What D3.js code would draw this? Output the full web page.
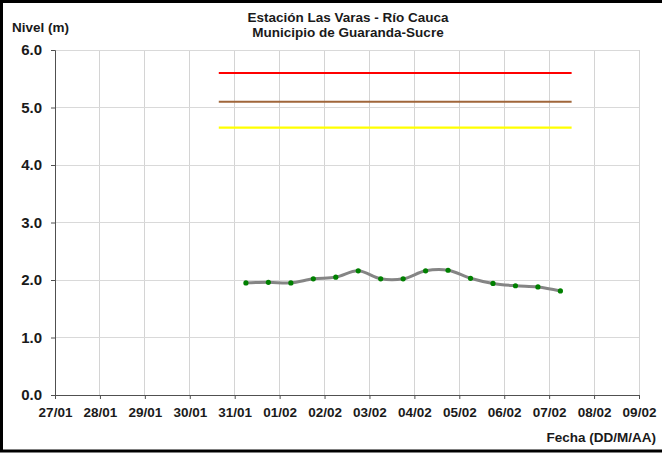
<!DOCTYPE html>
<html>
<head>
<meta charset="utf-8">
<script src="https://cdn.jsdelivr.net/npm/d3@7"></script>
<style>
  html, body { margin: 0; padding: 0; background: #fff; }
  svg { display: block; }
  text { font-family: "Liberation Sans", Arial, sans-serif; font-weight: bold; fill: #1a1a1a; }
</style>
</head>
<body>
<svg id="chart" width="662" height="453"></svg>
<script>
// ---- Data ----
const titleLines = ["Estación Las Varas - Río Cauca", "Municipio de Guaranda-Sucre"];
const yLabel = "Nivel (m)";
const xLabel = "Fecha (DD/M/AA)";

const levelDates = [
  "2017-01-31T06:00", "2017-01-31T18:00", "2017-02-01T06:00", "2017-02-01T18:00",
  "2017-02-02T06:00", "2017-02-02T18:00", "2017-02-03T06:00", "2017-02-03T18:00",
  "2017-02-04T06:00", "2017-02-04T18:00", "2017-02-05T06:00", "2017-02-05T18:00",
  "2017-02-06T06:00", "2017-02-06T18:00", "2017-02-07T06:00"
];
const levelValues = [1.95, 1.96, 1.95, 2.02, 2.05, 2.16, 2.02, 2.02, 2.16, 2.17, 2.03, 1.94, 1.90, 1.88, 1.81];

const thresholdStart = "2017-01-30T15:30";
const thresholdEnd = "2017-02-07T12:00";
const thresholdNames = ["Roja", "Naranja", "Amarilla"];
const thresholdValues = [5.6, 5.1, 4.65];
const thresholdColors = ["#ff0000", "#a0663a", "#ffff00"];

const xDomain = ["2017-01-27T00:00", "2017-02-09T00:00"];
const yTicks = [0, 1, 2, 3, 4, 5, 6];

// ---- Chart ----
(function () {
const parse = d3.timeParse("%Y-%m-%dT%H:%M");
const svg = d3.select("#chart");

const mLeft = 55, mRight = 639, mTop = 50, mBottom = 395;
const x = d3.scaleTime().domain(xDomain.map(parse)).range([mLeft, mRight]);
const y = d3.scaleLinear().domain([0, 6]).range([mBottom, mTop]);
const xTicks = d3.timeDay.range(parse(xDomain[0]), d3.timeDay.offset(parse(xDomain[1]), 1));

// grid
const grid = svg.append("g");
grid.selectAll("line.v").data(xTicks.slice(1)).join("line")
  .attr("x1", d => x(d)).attr("x2", d => x(d))
  .attr("y1", mTop).attr("y2", mBottom)
  .attr("stroke", "#d4d4d4").attr("stroke-width", 1).attr("shape-rendering", "crispEdges");
grid.selectAll("line.h").data(yTicks.slice(1)).join("line")
  .attr("x1", mLeft).attr("x2", mRight)
  .attr("y1", d => y(d)).attr("y2", d => y(d))
  .attr("stroke", "#d9d9d9").attr("stroke-width", 1).attr("shape-rendering", "crispEdges");

// thresholds
svg.append("g").selectAll("line").data(thresholdValues).join("line")
  .attr("x1", x(parse(thresholdStart))).attr("x2", x(parse(thresholdEnd)))
  .attr("y1", d => y(d)).attr("y2", d => y(d))
  .attr("stroke", (d, i) => thresholdColors[i]).attr("stroke-width", 2.2);

// axes
const yAxis = d3.axisLeft(y).tickValues(yTicks).tickFormat(d3.format(".1f")).tickSize(4).tickPadding(9);
const gy = svg.append("g").attr("transform", `translate(${mLeft},0)`).call(yAxis);
gy.select(".domain").attr("stroke", "#505050");
gy.selectAll(".tick line").attr("stroke", "#505050");
gy.selectAll(".tick text").style("font-size", "15px").attr("fill", "#1a1a1a");

const xAxis = d3.axisBottom(x).tickValues(xTicks).tickFormat(d3.timeFormat("%d/%m")).tickSize(4).tickSizeOuter(0).tickPadding(6);
const gx = svg.append("g").attr("transform", `translate(0,${mBottom})`).call(xAxis);
gx.select(".domain").attr("stroke", "#505050");
gx.selectAll(".tick line").attr("stroke", "#505050");
gx.selectAll(".tick text").style("font-size", "13.5px").attr("fill", "#1a1a1a").attr("dy", "0.9em");

// series
const data = levelDates.map((d, i) => ({ date: parse(d), value: levelValues[i] }));
const line = d3.line().x(d => x(d.date)).y(d => y(d.value)).curve(d3.curveCatmullRom.alpha(0.5));
svg.append("path").datum(data).attr("d", line)
  .attr("fill", "none").attr("stroke", "#858585").attr("stroke-width", 3);
svg.append("g").selectAll("circle").data(data).join("circle")
  .attr("cx", d => x(d.date)).attr("cy", d => y(d.value)).attr("r", 2.6)
  .attr("fill", "#008000");

// texts
svg.append("text").attr("x", 348).attr("y", 22).attr("text-anchor", "middle")
  .style("font-size", "13.5px").text(titleLines[0]);
svg.append("text").attr("x", 348).attr("y", 36.5).attr("text-anchor", "middle")
  .style("font-size", "13.5px").text(titleLines[1]);
svg.append("text").attr("x", 12).attr("y", 32).style("font-size", "13.5px").text(yLabel);
svg.append("text").attr("x", 656).attr("y", 442).attr("text-anchor", "end")
  .style("font-size", "13.5px").text(xLabel);

// frame
svg.append("rect").attr("x", 1.5).attr("y", 1.5).attr("width", 665).attr("height", 449.5)
  .attr("fill", "none").attr("stroke", "#000").attr("stroke-width", 3);
})();
</script>
</body>
</html>
